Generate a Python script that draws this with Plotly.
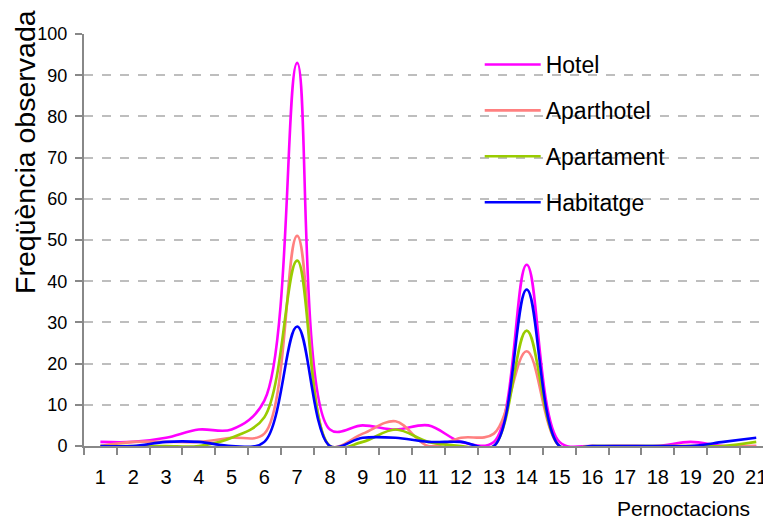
import plotly.graph_objects as go

nights = [str(i) for i in range(1, 22)]
hotel = [1, 1, 2, 4, 4, 11, 93, 4, 5, 4, 5, 1, 1, 44, 1, 0, 0, 0, 1, 0, 0]
aparthotel = [0, 1, 1, 1, 2, 3, 51, 0, 3, 6, 0, 2, 3, 23, 0, 0, 0, 0, 0, 0, 0]
apartament = [0, 0, 0, 0, 2, 7, 45, 0, 1, 4, 1, 0, 0, 28, 0, 0, 0, 0, 0, 0, 1]
habitatge = [0, 0, 1, 1, 0, 1, 29, 0, 2, 2, 1, 1, 0, 38, 0, 0, 0, 0, 0, 1, 2]

series = [
    ("Hotel", hotel, "#FF00FF"),
    ("Aparthotel", aparthotel, "#FF8080"),
    ("Apartament", apartament, "#99CC00"),
    ("Habitatge", habitatge, "#0000FF"),
]

FONT = "Liberation Sans, Arial, sans-serif"

fig = go.Figure()
for name, vals, col in series:
    fig.add_trace(go.Scatter(
        x=nights, y=vals, name=name, mode="lines",
        line=dict(color=col, width=2.6, shape="spline", smoothing=1.0),
        legendgroup=name,
    ))

fig.update_layout(
    width=763, height=514,
    margin=dict(l=76, r=0, t=26, b=76, autoexpand=False),
    paper_bgcolor="white", plot_bgcolor="white",
    font=dict(family=FONT, color="black"),
    showlegend=True,
    legend=dict(
        x=0.576, y=0.978, xanchor="left", yanchor="top",
        font=dict(size=23, family=FONT),
        bgcolor="rgba(0,0,0,0)", borderwidth=0,
        tracegroupgap=13, itemwidth=56,
    ),
    xaxis=dict(
        type="category", range=[-0.5, 20.45],
        showline=True, linecolor="#888888", linewidth=2,
        ticks="outside", ticklen=7, tickwidth=2, tickcolor="#888888",
        tickson="boundaries", tickangle=0,
        showgrid=False, zeroline=False,
        tickfont=dict(size=20, family=FONT),
        ticklabelstandoff=12,
    ),
    yaxis=dict(
        range=[0, 100], dtick=10,
        showline=True, linecolor="#888888", linewidth=2,
        ticks="outside", ticklen=7, tickwidth=2, tickcolor="#888888",
        showgrid=True, gridcolor="#BEBEBE", gridwidth=1.5, griddash="dash",
        zeroline=False,
        tickfont=dict(size=18, family=FONT),
        ticklabelstandoff=4,
    ),
    annotations=[
        dict(text="Freqüència observada", textangle=-90,
             xref="paper", yref="paper",
             x=-0.0859, y=0.7136,
             xanchor="center", yanchor="middle", showarrow=False,
             font=dict(size=28.5, family=FONT)),
        dict(text="Pernoctacions",
             xref="paper", yref="paper",
             x=0.873, y=-0.1845,
             xanchor="center", yanchor="bottom", showarrow=False,
             font=dict(size=21, family=FONT)),
    ],
)

fig.write_html("out.html")
